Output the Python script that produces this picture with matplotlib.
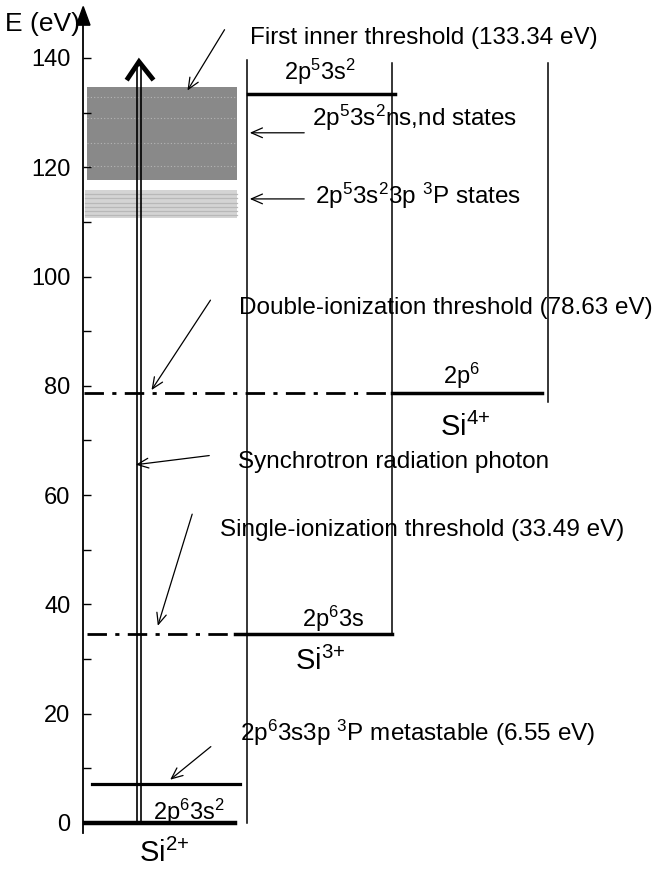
import matplotlib.pyplot as plt
from matplotlib.patches import Polygon

plt.rcParams['font.family'] = ['Liberation Sans', 'DejaVu Sans']
plt.rcParams['mathtext.default'] = 'regular'

# energy levels (eV), as drawn in the diagram
e_ground = 0.0
e_metastable = 7.1
e_single = 34.5
e_double = 78.6
e_inner = 133.4
band_nsnd = (117.7, 134.7)   # 2p5 3s2 ns,nd states
band_3p = (110.7, 115.8)     # 2p5 3s2 3p 3P states
nsnd_lines = [132.9, 129.0, 124.4, 120.3]
p3_lines = [115.1, 114.3, 113.5, 112.7, 111.9, 111.2]
photon_top = 138.8

yticks_major = [0, 20, 40, 60, 80, 100, 120, 140]
yticks_minor = [10, 30, 50, 70, 90, 110, 130]

fig = plt.figure(figsize=(6.52, 8.73), dpi=100)
ax = fig.add_axes([0, 0, 1, 1])
ax.set_xlim(0, 652)
ax.set_ylim(-9.15, 150.6)

# y axis
for s in ['top', 'right', 'bottom']:
    ax.spines[s].set_visible(False)
ax.spines['left'].set_position(('data', 83))
ax.spines['left'].set_bounds(-1.8, 147)
ax.spines['left'].set_linewidth(1.3)
ax.set_xticks([])
ax.set_yticks(yticks_major)
ax.set_yticks(yticks_minor, minor=True)
ax.tick_params(axis='y', which='both', direction='in', length=6, width=1, pad=9, labelsize=17)
ax.add_patch(Polygon([[76.5, 146], [90, 146], [83.2, 149.4]], closed=True, color='black', clip_on=False))
ax.text(5, 146.2, 'E (eV)', fontsize=19, va='center', ha='left')

# shaded bands
ax.fill_between([87, 237], band_nsnd[0], band_nsnd[1], color='#898989', lw=0)
for e in nsnd_lines:
    ax.plot([87, 237], [e, e], color='#b5b5b5', lw=0.8, ls=(0, (1, 2)))
ax.fill_between([85, 237], band_3p[0], band_3p[1], color='#d4d4d4', lw=0)
for e in p3_lines:
    ax.plot([85, 237], [e, e], color='#b8b8b8', lw=0.9)

# box boundaries
ax.plot([247, 247], [0, 139.6], color='black', lw=1.1)
ax.plot([392, 392], [e_single, 139.1], color='black', lw=1.1)
ax.plot([548, 548], [77.0, 139.1], color='black', lw=1.1)

# levels
ax.plot([85, 235], [e_ground, e_ground], color='black', lw=3.2)
ax.plot([92, 240], [e_metastable, e_metastable], color='black', lw=2.3)
dashdot = (0, (7, 3, 1.5, 3))
ax.plot([87, 235], [e_single, e_single], color='black', lw=2, ls=dashdot)
ax.plot([235, 392], [e_single, e_single], color='black', lw=2.5)
ax.plot([84, 392], [e_double, e_double], color='black', lw=2, ls=dashdot)
ax.plot([392, 542], [e_double, e_double], color='black', lw=2.5)
ax.plot([248, 395], [e_inner, e_inner], color='black', lw=2.5)

# photon (double line arrow)
ax.plot([137, 137], [e_ground, photon_top], color='black', lw=1.2)
ax.plot([141, 141], [e_ground, photon_top], color='black', lw=1.2)
ax.plot([128, 139, 152], [136.3, 139.3, 136.3], color='black', lw=3.5, solid_joinstyle='miter')

# level labels
ax.text(189, 2.0, r'2p$^6$3s$^2$', fontsize=17, ha='center', va='center')
ax.text(164, -5.6, r'Si$^{2{+}}$', fontsize=21, ha='center', va='center')
ax.text(333, 37.3, r'2p$^6$3s', fontsize=17, ha='center', va='center')
ax.text(320, 29.6, r'Si$^{3{+}}$', fontsize=21, ha='center', va='center')
ax.text(462, 81.8, r'2p$^6$', fontsize=17, ha='center', va='center')
ax.text(465, 72.3, r'Si$^{4{+}}$', fontsize=21, ha='center', va='center')
ax.text(320, 137.5, r'2p$^5$3s$^2$', fontsize=17, ha='center', va='center')

# annotations: text, text position, arrow start, arrow tip
notes = [
    ('First inner threshold (133.34 eV)', (250, 143.7), (226, 145.6), (186, 133.6)),
    (r'2p$^5$3s$^2$ns,nd states', (312, 129.0), (307, 126.3), (247, 126.3)),
    (r'2p$^5$3s$^2$3p $^3$P states', (315, 114.8), (307, 114.2), (247, 114.2)),
    ('Double-ionization threshold (78.63 eV)', (239, 94.3), (212, 96.1), (150, 78.8)),
    ('Synchrotron radiation photon', (238, 66.1), (212, 67.3), (133, 65.5)),
    ('Single-ionization threshold (33.49 eV)', (220, 53.6), (193, 57.0), (157, 35.6)),
    (r'2p$^6$3s3p $^3$P metastable (6.55 eV)', (240, 16.5), (213, 14.3), (168, 7.6)),
]
for label, txy, start, tip in notes:
    ax.text(txy[0], txy[1], label, fontsize=17.5, ha='left', va='center')
    ax.annotate('', xy=tip, xytext=start,
                arrowprops=dict(arrowstyle='->,head_length=0.8,head_width=0.35', color='black', lw=0.9))

fig.savefig('out.png', dpi=100)
